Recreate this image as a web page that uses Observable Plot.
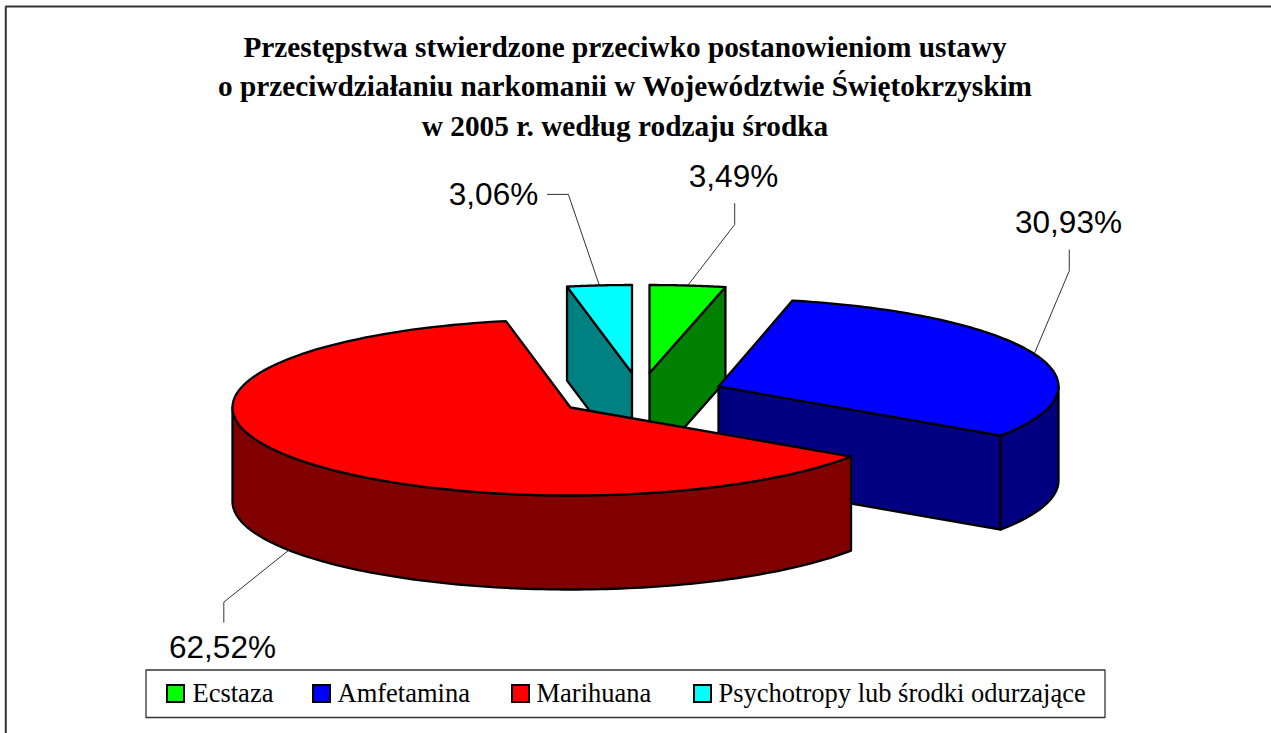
<!DOCTYPE html>
<html lang="pl">
<head>
<meta charset="utf-8">
<script src="https://cdn.jsdelivr.net/npm/d3@7"></script>
<script src="https://cdn.jsdelivr.net/npm/@observablehq/plot@0.6"></script>
<style>html,body{margin:0;padding:0;background:#fff;overflow:hidden}svg{display:block}</style>
</head>
<body>
<div id="chart"></div>
<script>
// --- data ---
const categories = ["Ecstaza", "Amfetamina", "Marihuana", "Psychotropy lub środki odurzające"];
const shares = [3.49, 30.93, 62.52, 3.06];
const shareLabels = ["3,49%", "30,93%", "62,52%", "3,06%"];
const topColors = ["#00ff00", "#0000ff", "#ff0000", "#00ffff"];
const wallColors = ["#008000", "#000080", "#800000", "#008080"];
const titleLines = [
  "Przestępstwa stwierdzone przeciwko postanowieniom ustawy",
  "o przeciwdziałaniu narkomanii w Województwie Świętokrzyskim",
  "w 2005 r. według rodzaju środka"
];

// --- layout ---
const W = 1271, H = 733;
const sliceCenters = [[649, 372.5], [718, 386], [570, 407], [631.5, 372.5]];
const sliceRx = [349, 340, 338, 340];
const RY = 88, DEPTH = 94;
const elbows = [[47, -61, 0, -21], [35, -83, 0, -21], [-65, 52, 0, 20], [-31, -91, -21, 0]];
const labelAnchors = [[733, 176], [1068, 222], [222, 647], [493, 194]];
const legendBox = {x1: 145.5, x2: 1104.5, y1: 669.5, y2: 717};
const legendSwatchX = [167, 313, 512, 694];
const legendTextX = [192, 337, 536, 718];

// --- geometry from values ---
const total = d3.sum(shares);
let acc = 0;
const slices = shares.map((v, i) => {
  const t0 = acc / total * 2 * Math.PI;
  acc += v;
  const t1 = acc / total * 2 * Math.PI;
  const [cx, cy] = sliceCenters[i];
  const rx = sliceRx[i];
  const pt = (t, dz = 0) => ({x: cx + rx * Math.sin(t), y: cy - RY * Math.cos(t) + dz});
  const arc = (a, b, dz = 0) => d3.range(0, 121).map(k => pt(a + (b - a) * k / 120, dz));
  return {i, t0, t1, cx, cy, pt, arc, apex: {x: cx, y: cy}, apexLow: {x: cx, y: cy + DEPTH}};
});
const close = p => [...p, p[0]];
const topFace = s => close([s.apex, ...s.arc(s.t0, s.t1)]);
const face = (s, col, pts) => ({pts: close(pts), col});
const [sE, sA, sM, sP] = slices;

const faces = [
  face(sP, wallColors[3], [sP.apex, sP.pt(sP.t0), sP.pt(sP.t0, DEPTH), sP.apexLow]),
  face(sP, topColors[3], topFace(sP)),
  face(sE, wallColors[0], [sE.apex, sE.pt(sE.t1), sE.pt(sE.t1, DEPTH), sE.apexLow]),
  face(sE, topColors[0], topFace(sE)),
  face(sA, wallColors[1], [sA.apex, sA.pt(sA.t1), sA.pt(sA.t1, DEPTH), sA.apexLow]),
  face(sA, wallColors[1], [...sA.arc(Math.PI / 2, sA.t1), ...sA.arc(sA.t1, Math.PI / 2, DEPTH)]),
  face(sA, topColors[1], topFace(sA)),
  face(sM, wallColors[2], [...sM.arc(sM.t0, 1.5 * Math.PI), ...sM.arc(1.5 * Math.PI, sM.t0, DEPTH)]),
  face(sM, topColors[2], topFace(sM))
];

const leaders = slices.map((s, i) => {
  const m = (s.t0 + s.t1) / 2;
  const start = s.pt(m, Math.cos(m) < 0 ? DEPTH : 0);
  const [dx1, dy1, dx2, dy2] = elbows[i];
  const mid = {x: start.x + dx1, y: start.y + dy1};
  return [start, mid, {x: mid.x + dx2, y: mid.y + dy2}];
});

// the outer frame runs off the picture on the right and at the bottom
const frame = [{x: 5.3, y: H}, {x: 5.3, y: 6}, {x: W, y: 6}];
const box = close([
  {x: legendBox.x1, y: legendBox.y1}, {x: legendBox.x2, y: legendBox.y1},
  {x: legendBox.x2, y: legendBox.y2}, {x: legendBox.x1, y: legendBox.y2}
]);

const titleRows = titleLines.map((t, i) => ({t, x: 624.5, y: 47 + i * 39.5}));
const labelRows = shareLabels.map((t, i) => ({t, x: labelAnchors[i][0], y: labelAnchors[i][1]}));
const legendRows = categories.map((t, i) => ({t, i, x: legendTextX[i], sx: legendSwatchX[i]}));

const serif = "'Liberation Serif','Times New Roman',serif";
const sans = "'Liberation Sans',Arial,sans-serif";

const chart = Plot.plot({
  width: W, height: H, margin: 0,
  x: {domain: [0, W], range: [0, W], axis: null},
  y: {domain: [0, H], range: [0, H], axis: null},
  marks: [
    Plot.line(frame, {x: "x", y: "y", stroke: "#333", strokeWidth: 2, strokeLinejoin: "miter"}),
    ...leaders.map(l => Plot.line(l, {x: "x", y: "y", stroke: "#333", strokeWidth: 1})),
    ...faces.map(f => Plot.line(f.pts, {x: "x", y: "y", fill: f.col, stroke: "black", strokeWidth: 2.3, strokeLinejoin: "round"})),
    Plot.text(titleRows, {x: "x", y: "y", text: "t", fontFamily: serif, fontWeight: "bold", fontSize: 29.3, fill: "black", lineAnchor: "middle"}),
    Plot.text(labelRows, {x: "x", y: "y", text: "t", fontFamily: sans, fontSize: 31.5, fill: "black", lineAnchor: "middle"}),
    Plot.line(box, {x: "x", y: "y", stroke: "#333", strokeWidth: 1.3, fill: "white"}),
    Plot.rect(legendRows, {x1: "sx", x2: d => d.sx + 17, y1: () => 685, y2: () => 702, fill: d => topColors[d.i], stroke: "black", strokeWidth: 2}),
    Plot.text(legendRows, {x: "x", y: () => 693, text: "t", textAnchor: "start", fontFamily: serif, fontSize: 26.5, fill: "black", lineAnchor: "middle"})
  ],
  color: {type: "identity"}
});
document.getElementById("chart").append(chart);
</script>
</body>
</html>
